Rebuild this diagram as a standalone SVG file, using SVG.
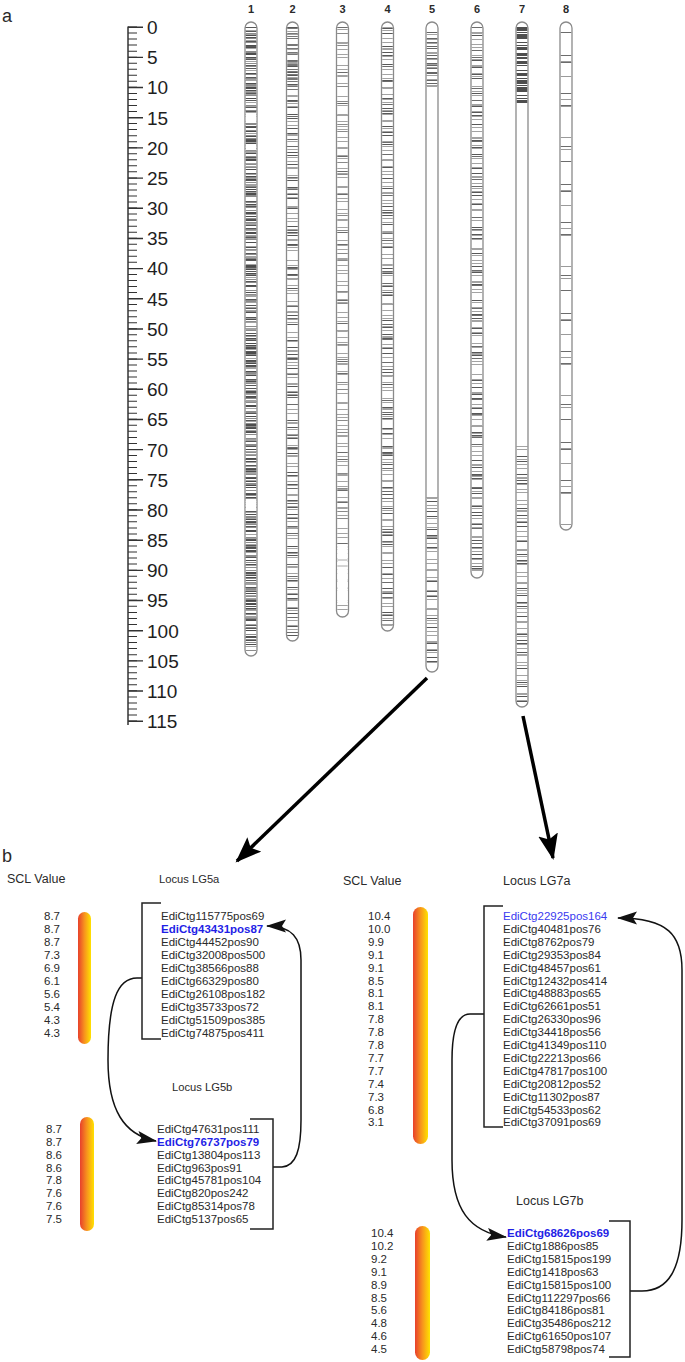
<svg xmlns="http://www.w3.org/2000/svg" width="685" height="1362" viewBox="0 0 685 1362">
<style>
text{font-family:"Liberation Sans",Arial,sans-serif;fill:#2a2a2a}
.pl{font-size:18px}
.rl{font-size:19px;fill:#1e1e1e}
.cn{font-size:11px;font-weight:bold;text-anchor:middle}
.hd{font-size:12.5px}
.hs{font-size:11.2px}
.mk{font-size:11.5px}
.sc{font-size:11.5px}
.bl{fill:#1f1fe6;font-weight:bold}
.bl2{fill:#3a3af0}
.chr{fill:#fff;stroke:#8a8a8a;stroke-width:1.3}
.bd{fill:none;stroke-width:10.5}
.b1{stroke:#4e4e4e;stroke-dasharray:1 2 1 3 2 1 1 4 1 2 1 1 1 5 2 2 1 3 1 1 1 6 1 2 2 3 1 1}
.b2{stroke:#a3a3a3;stroke-dasharray:1 4 1 2 1 7 1 3 1 5 2 6 1 2 1 9 1 4 1 3 1 8 2 5}
.b3{stroke:#585858;stroke-dasharray:1 6 1 3 1 9 1 4 1 12 1 5 1 2 1 8 1 15 1 6}
.b4{stroke:#6c6c6c;stroke-dasharray:1 14 1 22 1 6 1 30 1 11 1 40}
.br{fill:none;stroke:#222;stroke-width:1.5}
.cv{fill:none;stroke:#111;stroke-width:1.5;marker-end:url(#sh)}
.big{fill:none;stroke:#000;stroke-width:3.5;marker-end:url(#bh)}
</style>
<defs>
<linearGradient id="gr" x1="0" y1="0" x2="1" y2="0">
<stop offset="0" stop-color="#e8402c"/>
<stop offset="0.5" stop-color="#f7941d"/>
<stop offset="1" stop-color="#ffe200"/>
</linearGradient>
<marker id="bh" markerUnits="userSpaceOnUse" markerWidth="28" markerHeight="22" refX="24" refY="10" orient="auto">
<path d="M0,0 L26,10 L0,20 L5,10 z" fill="#000"/>
</marker>
<marker id="sh" markerUnits="userSpaceOnUse" markerWidth="22" markerHeight="14" refX="19" refY="6.5" orient="auto">
<path d="M0,0 L20,6.5 L0,13 L4,6.5 z" fill="#111"/>
</marker>
</defs>

<text class="pl" x="2" y="22">a</text>
<text class="pl" x="2" y="862">b</text>

<g id="ruler">
<line x1="128" y1="26.5" x2="128" y2="725" stroke="#333" stroke-width="1.5"/>
<line x1="132.5" y1="26.5" x2="132.5" y2="722" stroke="#333" stroke-width="9" stroke-dasharray="1 5.035"/>
<line x1="135.5" y1="26.5" x2="135.5" y2="722" stroke="#333" stroke-width="15" stroke-dasharray="1.4 28.775"/>
<text class="rl" x="147" y="34">0</text>
<text class="rl" x="147" y="64.2">5</text>
<text class="rl" x="147" y="94.4">10</text>
<text class="rl" x="147" y="124.5">15</text>
<text class="rl" x="147" y="154.7">20</text>
<text class="rl" x="147" y="184.9">25</text>
<text class="rl" x="147" y="215.1">30</text>
<text class="rl" x="147" y="245.2">35</text>
<text class="rl" x="147" y="275.4">40</text>
<text class="rl" x="147" y="305.6">45</text>
<text class="rl" x="147" y="335.8">50</text>
<text class="rl" x="147" y="365.9">55</text>
<text class="rl" x="147" y="396.1">60</text>
<text class="rl" x="147" y="426.3">65</text>
<text class="rl" x="147" y="456.5">70</text>
<text class="rl" x="147" y="486.6">75</text>
<text class="rl" x="147" y="516.8">80</text>
<text class="rl" x="147" y="547">85</text>
<text class="rl" x="147" y="577.2">90</text>
<text class="rl" x="147" y="607.3">95</text>
<text class="rl" x="147" y="637.5">100</text>
<text class="rl" x="147" y="667.7">105</text>
<text class="rl" x="147" y="697.9">110</text>
<text class="rl" x="147" y="728">115</text>
</g>

<g id="chr1">
<text class="cn" x="251" y="13">1</text>
<rect class="chr" x="245" y="22" width="12" height="634" rx="6"/>
<line class="bd b1" x1="251" y1="27" x2="251" y2="651"/>
<line class="bd b2" x1="251" y1="27" x2="251" y2="651" style="stroke-dashoffset:13"/>
<line class="bd b2" x1="251" y1="27" x2="251" y2="651" style="stroke-dashoffset:41;stroke:#8c8c8c"/>
<line class="bd b3" x1="251" y1="27" x2="251" y2="651" style="stroke-dashoffset:7"/>
<rect x="245.8" y="113" width="10.4" height="10" fill="#fff"/>
<rect x="245.8" y="145" width="10.4" height="5" fill="#fff"/>
<rect x="245.8" y="500" width="10.4" height="11" fill="#fff"/>
</g>

<g id="chr2">
<text class="cn" x="292.5" y="13">2</text>
<rect class="chr" x="286.5" y="22" width="12" height="619" rx="6"/>
<line class="bd b3" x1="292.5" y1="27" x2="292.5" y2="636"/>
<line class="bd b2" x1="292.5" y1="27" x2="292.5" y2="636" style="stroke-dashoffset:30"/>
<line class="bd b4" x1="292.5" y1="27" x2="292.5" y2="636" style="stroke-dashoffset:55"/>
<line class="bd b1" x1="292.5" y1="27" x2="292.5" y2="90" style="stroke-dashoffset:9;stroke:#777"/>
</g>

<g id="chr3">
<text class="cn" x="342.5" y="13">3</text>
<rect class="chr" x="336.5" y="22" width="12" height="595" rx="6"/>
<line class="bd b4" x1="342.5" y1="27" x2="342.5" y2="612"/>
<line class="bd b2" x1="342.5" y1="27" x2="342.5" y2="612" style="stroke-dashoffset:50"/>
<line class="bd b4" x1="342.5" y1="27" x2="342.5" y2="612" style="stroke-dashoffset:70;stroke:#8a8a8a"/>
<rect x="337.3" y="545" width="10.4" height="60" fill="#fff"/>
<path d="M337.3 560h10.4M337.3 566h10.4" stroke="#aaa" stroke-width="1"/>
</g>

<g id="chr4">
<text class="cn" x="387.5" y="13">4</text>
<rect class="chr" x="381.5" y="22" width="12" height="609" rx="6"/>
<line class="bd b3" x1="387.5" y1="27" x2="387.5" y2="626" style="stroke-dashoffset:20"/>
<line class="bd b2" x1="387.5" y1="27" x2="387.5" y2="626" style="stroke-dashoffset:5"/>
<line class="bd b4" x1="387.5" y1="27" x2="387.5" y2="626" style="stroke-dashoffset:90"/>
</g>

<g id="chr5">
<text class="cn" x="432" y="13">5</text>
<rect class="chr" x="426" y="22" width="12" height="650" rx="6"/>
<line class="bd b1" x1="432" y1="32" x2="432" y2="90" style="stroke-dashoffset:20;stroke:#666"/>
<line class="bd b2" x1="432" y1="27" x2="432" y2="90" style="stroke-dashoffset:40"/>
<line class="bd b3" x1="432" y1="493" x2="432" y2="667" style="stroke-dashoffset:3"/>
<line class="bd b2" x1="432" y1="493" x2="432" y2="667" style="stroke-dashoffset:22"/>
</g>

<g id="chr6">
<text class="cn" x="477" y="13">6</text>
<rect class="chr" x="471" y="22" width="12" height="556" rx="6"/>
<line class="bd b3" x1="477" y1="27" x2="477" y2="573" style="stroke-dashoffset:40"/>
<line class="bd b2" x1="477" y1="27" x2="477" y2="573" style="stroke-dashoffset:60"/>
<line class="bd b4" x1="477" y1="27" x2="477" y2="573" style="stroke-dashoffset:15"/>
</g>

<g id="chr7">
<text class="cn" x="522" y="13">7</text>
<rect class="chr" x="516" y="22" width="12" height="685" rx="6"/>
<line class="bd b1" x1="522" y1="27" x2="522" y2="103"/>
<line class="bd b1" x1="522" y1="27" x2="522" y2="103" style="stroke-dashoffset:25"/>
<line class="bd b3" x1="522" y1="445" x2="522" y2="702" style="stroke-dashoffset:10"/>
<line class="bd b2" x1="522" y1="445" x2="522" y2="702" style="stroke-dashoffset:33"/>
</g>

<g id="chr8">
<text class="cn" x="566" y="13">8</text>
<rect class="chr" x="560" y="22" width="12" height="508" rx="6"/>
<line class="bd b4" x1="566" y1="27" x2="566" y2="525" style="stroke-dashoffset:10"/>
<line class="bd b4" x1="566" y1="27" x2="566" y2="525" style="stroke-dashoffset:95;stroke:#9a9a9a"/>
</g>

<g id="connectors">
<line class="big" x1="427" y1="678" x2="237" y2="861"/>
<line class="big" x1="523" y1="716" x2="553" y2="858"/>
<path class="cv" d="M142 978 H137 C118 978 108 1000 108 1060 C108 1110 124 1135 156 1141"/>
<path class="cv" d="M273 1167 H282 C296 1166 301 1150 301 1120 L301 960 C301 938 292 926 267 926"/>
<path class="cv" d="M484 1014 H470 C458 1014 452 1030 452 1060 L452 1160 C452 1210 470 1232 506 1237"/>
<path class="cv" d="M630 1291 H642 C668 1291 682 1270 682 1220 L682 970 C682 935 668 918 618 918"/>
</g>

<g id="LG5a">
<text class="hd" x="7" y="883">SCL Value</text>
<text class="hs" x="159" y="883">Locus LG5a</text>
<rect x="78" y="912" width="13" height="132" rx="6.5" fill="url(#gr)"/>
<path class="br" d="M161 903 H142 V1039 H161"/>
<text class="sc"><tspan x="44" y="920">8.7</tspan><tspan x="44" dy="12.97">8.7</tspan><tspan x="44" dy="12.97">8.7</tspan><tspan x="44" dy="12.97">7.3</tspan><tspan x="44" dy="12.97">6.9</tspan><tspan x="44" dy="12.97">6.1</tspan><tspan x="44" dy="12.97">5.6</tspan><tspan x="44" dy="12.97">5.4</tspan><tspan x="44" dy="12.97">4.3</tspan><tspan x="44" dy="12.97">4.3</tspan></text>
<text class="mk"><tspan x="161" y="920">EdiCtg115775pos69</tspan><tspan x="161" dy="12.97" class="bl">EdiCtg43431pos87</tspan><tspan x="161" dy="12.97">EdiCtg44452pos90</tspan><tspan x="161" dy="12.97">EdiCtg32008pos500</tspan><tspan x="161" dy="12.97">EdiCtg38566pos88</tspan><tspan x="161" dy="12.97">EdiCtg66329pos80</tspan><tspan x="161" dy="12.97">EdiCtg26108pos182</tspan><tspan x="161" dy="12.97">EdiCtg35733pos72</tspan><tspan x="161" dy="12.97">EdiCtg51509pos385</tspan><tspan x="161" dy="12.97">EdiCtg74875pos411</tspan></text>
</g>

<g id="LG5b">
<text class="hs" x="172" y="1091">Locus LG5b</text>
<rect x="80" y="1117" width="14" height="114" rx="7" fill="url(#gr)"/>
<path class="br" d="M250 1119 H273 V1229 H250"/>
<text class="sc"><tspan x="46" y="1133">8.7</tspan><tspan x="46" dy="12.86">8.7</tspan><tspan x="46" dy="12.86">8.6</tspan><tspan x="46" dy="12.86">8.6</tspan><tspan x="46" dy="12.86">7.8</tspan><tspan x="46" dy="12.86">7.6</tspan><tspan x="46" dy="12.86">7.6</tspan><tspan x="46" dy="12.86">7.5</tspan></text>
<text class="mk"><tspan x="157" y="1133">EdiCtg47631pos111</tspan><tspan x="157" dy="12.86" class="bl">EdiCtg76737pos79</tspan><tspan x="157" dy="12.86">EdiCtg13804pos113</tspan><tspan x="157" dy="12.86">EdiCtg963pos91</tspan><tspan x="157" dy="12.86">EdiCtg45781pos104</tspan><tspan x="157" dy="12.86">EdiCtg820pos242</tspan><tspan x="157" dy="12.86">EdiCtg85314pos78</tspan><tspan x="157" dy="12.86">EdiCtg5137pos65</tspan></text>
</g>

<g id="LG7a">
<text class="hd" x="343" y="885">SCL Value</text>
<text class="hd" x="503" y="885">Locus LG7a</text>
<rect x="413" y="907" width="15" height="237" rx="7.5" fill="url(#gr)"/>
<path class="br" d="M503 906 H484 V1127 H503"/>
<text class="sc"><tspan x="368" y="920">10.4</tspan><tspan x="368" dy="12.9">10.0</tspan><tspan x="368" dy="12.9">9.9</tspan><tspan x="368" dy="12.9">9.1</tspan><tspan x="368" dy="12.9">9.1</tspan><tspan x="368" dy="12.9">8.5</tspan><tspan x="368" dy="12.9">8.1</tspan><tspan x="368" dy="12.9">8.1</tspan><tspan x="368" dy="12.9">7.8</tspan><tspan x="368" dy="12.9">7.8</tspan><tspan x="368" dy="12.9">7.8</tspan><tspan x="368" dy="12.9">7.7</tspan><tspan x="368" dy="12.9">7.7</tspan><tspan x="368" dy="12.9">7.4</tspan><tspan x="368" dy="12.9">7.3</tspan><tspan x="368" dy="12.9">6.8</tspan><tspan x="368" dy="12.9">3.1</tspan></text>
<text class="mk"><tspan x="503" y="920" class="bl2">EdiCtg22925pos164</tspan><tspan x="503" dy="12.9">EdiCtg40481pos76</tspan><tspan x="503" dy="12.9">EdiCtg8762pos79</tspan><tspan x="503" dy="12.9">EdiCtg29353pos84</tspan><tspan x="503" dy="12.9">EdiCtg48457pos61</tspan><tspan x="503" dy="12.9">EdiCtg12432pos414</tspan><tspan x="503" dy="12.9">EdiCtg48883pos65</tspan><tspan x="503" dy="12.9">EdiCtg62661pos51</tspan><tspan x="503" dy="12.9">EdiCtg26330pos96</tspan><tspan x="503" dy="12.9">EdiCtg34418pos56</tspan><tspan x="503" dy="12.9">EdiCtg41349pos110</tspan><tspan x="503" dy="12.9">EdiCtg22213pos66</tspan><tspan x="503" dy="12.9">EdiCtg47817pos100</tspan><tspan x="503" dy="12.9">EdiCtg20812pos52</tspan><tspan x="503" dy="12.9">EdiCtg11302pos87</tspan><tspan x="503" dy="12.9">EdiCtg54533pos62</tspan><tspan x="503" dy="12.9">EdiCtg37091pos69</tspan></text>
</g>

<g id="LG7b">
<text class="hd" x="516" y="1205">Locus LG7b</text>
<rect x="415" y="1226" width="15" height="134" rx="7.5" fill="url(#gr)"/>
<path class="br" d="M609 1221 H630 V1357 H609"/>
<text class="sc"><tspan x="371" y="1237">10.4</tspan><tspan x="371" dy="12.9">10.2</tspan><tspan x="371" dy="12.9">9.2</tspan><tspan x="371" dy="12.9">9.1</tspan><tspan x="371" dy="12.9">8.9</tspan><tspan x="371" dy="12.9">8.5</tspan><tspan x="371" dy="12.9">5.6</tspan><tspan x="371" dy="12.9">4.8</tspan><tspan x="371" dy="12.9">4.6</tspan><tspan x="371" dy="12.9">4.5</tspan></text>
<text class="mk"><tspan x="507" y="1237" class="bl">EdiCtg68626pos69</tspan><tspan x="507" dy="12.9">EdiCtg1886pos85</tspan><tspan x="507" dy="12.9">EdiCtg15815pos199</tspan><tspan x="507" dy="12.9">EdiCtg1418pos63</tspan><tspan x="507" dy="12.9">EdiCtg15815pos100</tspan><tspan x="507" dy="12.9">EdiCtg112297pos66</tspan><tspan x="507" dy="12.9">EdiCtg84186pos81</tspan><tspan x="507" dy="12.9">EdiCtg35486pos212</tspan><tspan x="507" dy="12.9">EdiCtg61650pos107</tspan><tspan x="507" dy="12.9">EdiCtg58798pos74</tspan></text>
</g>
</svg>
